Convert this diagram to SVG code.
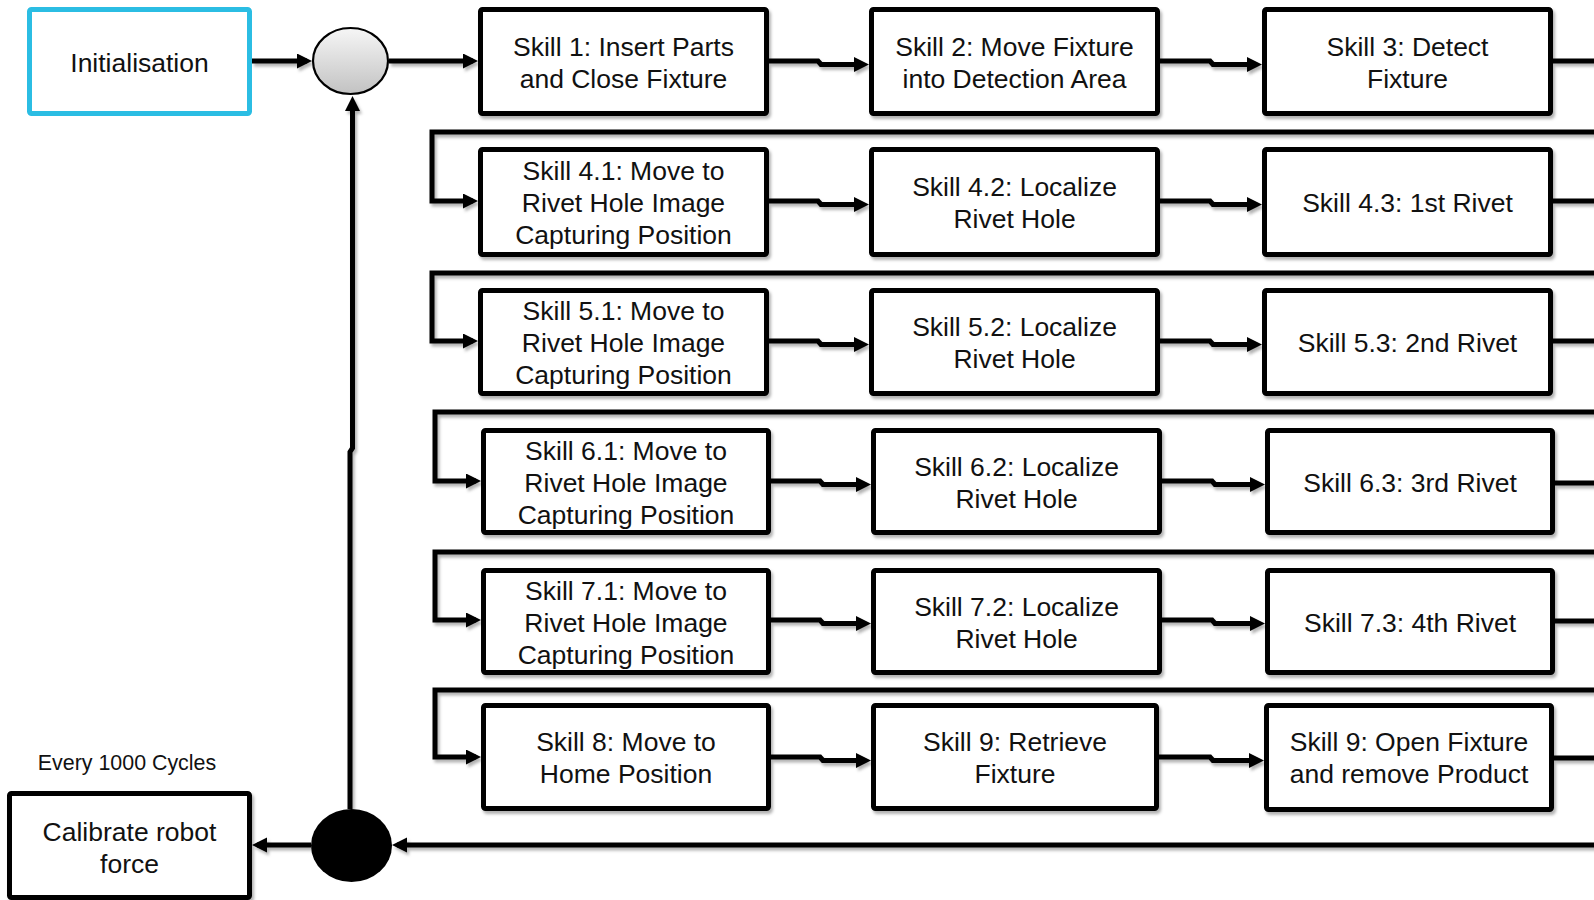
<svg xmlns="http://www.w3.org/2000/svg" width="1594" height="900" viewBox="0 0 1594 900">
<style>
  .box { fill: #ffffff; stroke: #000000; stroke-width: 5; filter: url(#sh); }
  .init { fill: #ffffff; stroke: #2bbde3; stroke-width: 5; }
  .t { font-family: "Liberation Sans", Arial, sans-serif; font-size: 26.5px; fill: #111111; text-anchor: middle; }
  .small { font-size: 21.4px; }
  .c { fill: none; stroke: #000000; stroke-width: 5; stroke-linejoin: miter; marker-end: url(#ah); }
  .cn { fill: none; stroke: #000000; stroke-width: 5; stroke-linejoin: miter; }
</style>
<defs>
  <filter id="sh" x="-10%" y="-10%" width="130%" height="140%">
    <feDropShadow dx="2" dy="3" stdDeviation="1.8" flood-color="#000000" flood-opacity="0.3"/>
  </filter>
  <marker id="ah" markerUnits="userSpaceOnUse" markerWidth="16" markerHeight="16" refX="10" refY="7.5" orient="auto">
    <path d="M0,0 L15,7.5 L0,15 Z" fill="#000000"/>
  </marker>
  <linearGradient id="gg" x1="0" y1="0" x2="0" y2="1">
    <stop offset="0" stop-color="#f6f6f6"/>
    <stop offset="1" stop-color="#c2c2c2"/>
  </linearGradient>
</defs>
<rect x="0" y="0" width="1594" height="900" fill="#ffffff"/>

<g id="connectors" filter="url(#sh)">
  <path class="c" d="M252,61 H307"/>
  <path class="c" d="M389,61 H473"/>
  <path class="c" d="M769,61 H818 L821,64.5 H864"/>
  <path class="c" d="M1160,61 H1210 L1213,64.5 H1257"/>
  <path class="cn" d="M1553,61 H1600"/>

  <path class="c" d="M1600,132 H432 V201 H473"/>
  <path class="c" d="M769,201 H818 L821,204.5 H864"/>
  <path class="c" d="M1160,201 H1210 L1213,204.5 H1257"/>
  <path class="cn" d="M1553,201 H1600"/>

  <path class="c" d="M1600,273 H432 V341 H473"/>
  <path class="c" d="M769,341 H818 L821,344.5 H864"/>
  <path class="c" d="M1160,341 H1210 L1213,344.5 H1257"/>
  <path class="cn" d="M1553,341 H1600"/>

  <path class="c" d="M1600,412 H435 V481 H476"/>
  <path class="c" d="M771,481 H820 L823,484.5 H866"/>
  <path class="c" d="M1162,481 H1212 L1215,484.5 H1260"/>
  <path class="cn" d="M1555,483 H1600"/>

  <path class="c" d="M1600,552 H435 V620 H476"/>
  <path class="c" d="M771,620 H820 L823,623.5 H866"/>
  <path class="c" d="M1162,620 H1212 L1215,623.5 H1260"/>
  <path class="cn" d="M1555,621 H1600"/>

  <path class="c" d="M1600,690 H435 V757 H476"/>
  <path class="c" d="M771,757 H820 L823,760.5 H866"/>
  <path class="c" d="M1159,757 H1210 L1213,760.5 H1259"/>
  <path class="cn" d="M1554,758 H1600"/>

  <path class="c" d="M1600,845 H397"/>
  <path class="c" d="M311,845 H257"/>
  <path class="c" d="M350,809 V452 L352.5,448 V101"/>
</g>

<g id="init">
  <rect class="init" x="29.5" y="9.5" width="220" height="104" rx="2"/>
  <text class="t" x="139.5" y="72">Initialisation</text>
</g>

<g id="merge">
  <ellipse cx="350.5" cy="61" rx="37.5" ry="33" fill="url(#gg)" stroke="#000000" stroke-width="2.2"/>
</g>

<g id="decision">
  <ellipse cx="351.5" cy="845.5" rx="40.5" ry="36.5" fill="#000000"/>
</g>

<g id="calibrate">
  <rect class="box" x="9.5" y="793.5" width="240" height="104" rx="2"/>
  <text class="t" x="129.5" y="841">Calibrate robot</text>
  <text class="t" x="129.5" y="873">force</text>
</g>

<g id="every-label">
  <text class="t small" x="127" y="769.5">Every 1000 Cycles</text>
</g>

<g id="skill1">
  <rect class="box" x="480.5" y="9.5" width="286" height="104" rx="2"/>
  <text class="t" x="623.5" y="55.5">Skill 1: Insert Parts</text>
  <text class="t" x="623.5" y="87.5">and Close Fixture</text>
</g>
<g id="skill2">
  <rect class="box" x="871.5" y="9.5" width="286" height="104" rx="2"/>
  <text class="t" x="1014.5" y="55.5">Skill 2: Move Fixture</text>
  <text class="t" x="1014.5" y="87.5">into Detection Area</text>
</g>
<g id="skill3">
  <rect class="box" x="1264.5" y="9.5" width="286" height="104" rx="2"/>
  <text class="t" x="1407.5" y="55.5">Skill 3: Detect</text>
  <text class="t" x="1407.5" y="87.5">Fixture</text>
</g>

<g id="skill4-1">
  <rect class="box" x="480.5" y="149.5" width="286" height="105" rx="2"/>
  <text class="t" x="623.5" y="179.5">Skill 4.1: Move to</text>
  <text class="t" x="623.5" y="211.5">Rivet Hole Image</text>
  <text class="t" x="623.5" y="243.5">Capturing Position</text>
</g>
<g id="skill4-2">
  <rect class="box" x="871.5" y="149.5" width="286" height="105" rx="2"/>
  <text class="t" x="1014.5" y="195.5">Skill 4.2: Localize</text>
  <text class="t" x="1014.5" y="227.5">Rivet Hole</text>
</g>
<g id="skill4-3">
  <rect class="box" x="1264.5" y="149.5" width="286" height="105" rx="2"/>
  <text class="t" x="1407.5" y="212">Skill 4.3: 1st Rivet</text>
</g>

<g id="skill5-1">
  <rect class="box" x="480.5" y="290.5" width="286" height="103" rx="2"/>
  <text class="t" x="623.5" y="319.5">Skill 5.1: Move to</text>
  <text class="t" x="623.5" y="351.5">Rivet Hole Image</text>
  <text class="t" x="623.5" y="383.5">Capturing Position</text>
</g>
<g id="skill5-2">
  <rect class="box" x="871.5" y="290.5" width="286" height="103" rx="2"/>
  <text class="t" x="1014.5" y="335.5">Skill 5.2: Localize</text>
  <text class="t" x="1014.5" y="367.5">Rivet Hole</text>
</g>
<g id="skill5-3">
  <rect class="box" x="1264.5" y="290.5" width="286" height="103" rx="2"/>
  <text class="t" x="1407.5" y="352">Skill 5.3: 2nd Rivet</text>
</g>

<g id="skill6-1">
  <rect class="box" x="483.5" y="430.5" width="285" height="102" rx="2"/>
  <text class="t" x="626" y="460">Skill 6.1: Move to</text>
  <text class="t" x="626" y="492">Rivet Hole Image</text>
  <text class="t" x="626" y="524">Capturing Position</text>
</g>
<g id="skill6-2">
  <rect class="box" x="873.5" y="430.5" width="286" height="102" rx="2"/>
  <text class="t" x="1016.5" y="476">Skill 6.2: Localize</text>
  <text class="t" x="1016.5" y="508">Rivet Hole</text>
</g>
<g id="skill6-3">
  <rect class="box" x="1267.5" y="430.5" width="285" height="102" rx="2"/>
  <text class="t" x="1410" y="492">Skill 6.3: 3rd Rivet</text>
</g>

<g id="skill7-1">
  <rect class="box" x="483.5" y="570.5" width="285" height="102" rx="2"/>
  <text class="t" x="626" y="600">Skill 7.1: Move to</text>
  <text class="t" x="626" y="632">Rivet Hole Image</text>
  <text class="t" x="626" y="664">Capturing Position</text>
</g>
<g id="skill7-2">
  <rect class="box" x="873.5" y="570.5" width="286" height="102" rx="2"/>
  <text class="t" x="1016.5" y="616">Skill 7.2: Localize</text>
  <text class="t" x="1016.5" y="648">Rivet Hole</text>
</g>
<g id="skill7-3">
  <rect class="box" x="1267.5" y="570.5" width="285" height="102" rx="2"/>
  <text class="t" x="1410" y="632">Skill 7.3: 4th Rivet</text>
</g>

<g id="skill8">
  <rect class="box" x="483.5" y="705.5" width="285" height="103" rx="2"/>
  <text class="t" x="626" y="751">Skill 8: Move to</text>
  <text class="t" x="626" y="783">Home Position</text>
</g>
<g id="skill9-retrieve">
  <rect class="box" x="873.5" y="705.5" width="283" height="103" rx="2"/>
  <text class="t" x="1015" y="751">Skill 9: Retrieve</text>
  <text class="t" x="1015" y="783">Fixture</text>
</g>
<g id="skill9-open">
  <rect class="box" x="1266.5" y="705.5" width="285" height="104" rx="2"/>
  <text class="t" x="1409" y="751">Skill 9: Open Fixture</text>
  <text class="t" x="1409" y="783">and remove Product</text>
</g>
</svg>
